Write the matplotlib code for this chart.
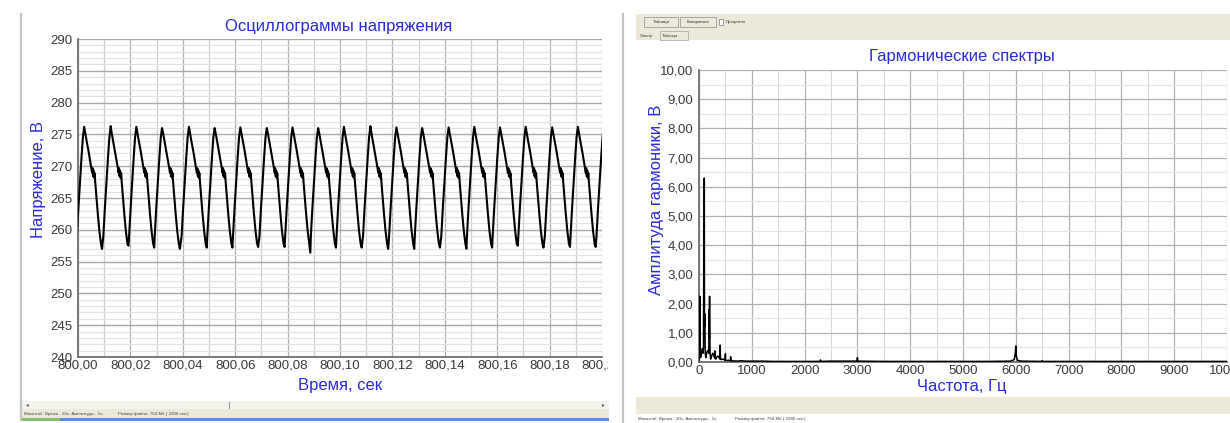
import matplotlib
matplotlib.use("Agg")
import matplotlib.pyplot as plt
from matplotlib.patches import Rectangle
from matplotlib.lines import Line2D
from matplotlib.transforms import Bbox
from matplotlib.ticker import MultipleLocator

plt.rcParams['font.family'] = ['Liberation Sans', 'DejaVu Sans']

# ---------------- data ----------------
volt_ticks = [240, 245, 250, 255, 260, 265, 270, 275, 280, 285, 290]
volt_labels = ["240", "245", "250", "255", "260", "265", "270", "275", "280", "285", "290"]
time_ticks = [800.00, 800.02, 800.04, 800.06, 800.08, 800.10, 800.12, 800.14, 800.16, 800.18, 800.20]
time_labels = ["800,00", "800,02", "800,04", "800,06", "800,08", "800,10",
               "800,12", "800,14", "800,16", "800,18", "800,20"]

# peak instants of the voltage ripple (s after 800 s)
peak_times = [0.00236, 0.01247, 0.02228, 0.03208, 0.04234, 0.05215, 0.06196,
              0.07206, 0.08187, 0.09167, 0.10148, 0.11159, 0.12154, 0.13135,
              0.14146, 0.15126, 0.16107, 0.17087, 0.18098, 0.19079, 0.20070]
peak_volts = [276.2, 276.3, 276.2, 276.0, 276.2, 276.0, 276.1, 276.0, 276.1, 276.0,
              276.2, 276.3, 276.1, 276.0, 276.1, 276.2, 276.1, 276.2, 276.1, 276.2, 276.2]
trough_volts = [257.0, 257.5, 257.2, 257.0, 257.2, 257.2, 257.3, 257.3, 256.4, 257.2,
                257.2, 257.0, 257.0, 257.2, 257.0, 257.2, 257.5, 257.2, 257.3, 257.3, 257.3]
# shape of one ripple period around its peak (time offset, s / voltage, V)
shape_dt = [-0.0028, -0.0022, -0.0016, -0.0010, -0.0005, 0.0004, 0.0010, 0.0016,
            0.0022, 0.0027, 0.0030, 0.0032, 0.0034, 0.0036, 0.0038, 0.0040, 0.0042,
            0.0046, 0.0052, 0.0058, 0.0064]
shape_v = [259.0, 263.5, 267.5, 271.5, 274.5, 275.2, 273.8, 272.5,
           271.0, 269.8, 269.0, 269.7, 268.4, 269.3, 268.2, 268.9, 267.6,
           265.5, 262.5, 259.8, 257.8]
trough_dt = 0.0068

amp_ticks = [0, 1, 2, 3, 4, 5, 6, 7, 8, 9, 10]
amp_labels = ["0,00", "1,00", "2,00", "3,00", "4,00", "5,00", "6,00", "7,00", "8,00", "9,00", "10,00"]
freq_ticks = [0, 1000, 2000, 3000, 4000, 5000, 6000, 7000, 8000, 9000, 10000]
freq_labels = ["0", "1000", "2000", "3000", "4000", "5000", "6000", "7000", "8000", "9000", "10000"]

spec_freq = [0, 8, 15, 22, 30, 45, 60, 75, 85, 92, 96, 100, 104, 110, 118, 130, 150,
             170, 185, 192, 196, 200, 204, 210, 220, 240, 260, 280, 295, 300, 305,
             320, 340, 360, 380, 395, 400, 405, 420, 450, 480, 495, 500, 505, 530,
             560, 595, 600, 605, 650, 700, 800, 900, 1000, 1200, 1400, 1700, 2000,
             2290, 2300, 2310, 2500, 2990, 3000, 3010, 3500, 4000, 4500, 5000, 5500,
             5900, 5970, 5990, 6000, 6010, 6030, 6100, 6490, 6500, 6510, 7000, 8000,
             9000, 10000]
spec_amp = [0.05, 0.6, 2.25, 0.4, 0.15, 0.3, 0.45, 0.3, 0.5, 4.65, 1.5, 6.3, 1.2, 1.65,
            0.3, 0.15, 0.35, 0.4, 0.3, 1.8, 0.8, 2.25, 1.0, 0.3, 0.1, 0.2, 0.3, 0.25,
            0.15, 0.38, 0.12, 0.1, 0.18, 0.2, 0.15, 0.1, 0.58, 0.15, 0.08, 0.1, 0.08,
            0.05, 0.28, 0.06, 0.05, 0.06, 0.04, 0.18, 0.04, 0.04, 0.03, 0.04, 0.03,
            0.03, 0.03, 0.02, 0.02, 0.02, 0.02, 0.07, 0.02, 0.03, 0.03, 0.15, 0.03,
            0.02, 0.02, 0.02, 0.02, 0.02, 0.03, 0.08, 0.3, 0.55, 0.2, 0.06, 0.03,
            0.02, 0.05, 0.02, 0.02, 0.02, 0.02, 0.02]

# ---------------- figure ----------------
W, H = 1230, 423
fig = plt.figure(figsize=(W / 100, H / 100), dpi=100)
fig.patch.set_facecolor("white")


def fx(x):
    return x / W


def fy(y):
    return 1 - y / H


BLUE = "#2a2ad8"
TICKC = "#3a3a3a"

# ---------- window chrome (screenshot frame) ----------
def rect(x0, y0, x1, y1, fc, ec="none", lw=0.0, z=0):
    fig.add_artist(Rectangle((fx(x0), fy(y1)), fx(x1 - x0), (y1 - y0) / H,
                             transform=fig.transFigure, facecolor=fc,
                             edgecolor=ec, linewidth=lw, zorder=z))


def vline(x, y0, y1, c, lw):
    fig.add_artist(Line2D([fx(x), fx(x)], [fy(y0), fy(y1)], transform=fig.transFigure,
                          color=c, linewidth=lw))


# left window
vline(20.5, 14, 420, "#c4c4c4", 1.6)
rect(22, 401, 609, 409, "#f4f3ec")
rect(22, 409, 609, 418, "#ece9d8")
rect(22, 418, 609, 421, "#5b8fd6")
rect(22, 418, 60, 421, "#7fbf6a")
fig.text(fx(26), fy(405), "◂", fontsize=4, color="#555555", va="center")
fig.text(fx(602), fy(405), "▸", fontsize=4, color="#555555", va="center")
vline(229, 402, 408, "#999999", 0.8)
fig.text(fx(24), fy(413.5), "Масштаб: Время - 20с; Амплитуда - 1с;", fontsize=3.2,
         color="#444444", va="center")
fig.text(fx(118), fy(413.5), "Размер файла: 764 Мб ( 2286 сек.)", fontsize=3.2,
         color="#444444", va="center")

# right window
vline(623, 14, 423, "#c4c4c4", 1.6)
rect(636, 14, W, 40, "#ece9d8")
rect(644, 17, 678, 27, "#ece9d8", "#9a9a9a", 0.6)
fig.text(fx(661), fy(22), "Таблица", fontsize=3.2, color="#333333", ha="center", va="center")
rect(680, 17, 716, 27, "#ece9d8", "#9a9a9a", 0.6)
fig.text(fx(698), fy(22), "Копировать", fontsize=3.2, color="#333333", ha="center", va="center")
rect(719, 19, 723, 25, "white", "#777777", 0.5)
fig.text(fx(726), fy(22), "Проценты", fontsize=3.2, color="#333333", va="center")
fig.text(fx(640), fy(36), "Спектр", fontsize=3.0, color="#333333", va="center")
rect(660, 31, 688, 40, "#ece9d8", "#a0a0a0", 0.5)
fig.text(fx(662), fy(36), "Таблица", fontsize=3.0, color="#333333", va="center")
rect(636, 397, W, 414, "#ece9d8")
fig.text(fx(638), fy(419), "Масштаб: Время - 20с; Амплитуда - 1с;", fontsize=3.2,
         color="#444444", va="center")
fig.text(fx(735), fy(419), "Размер файла: 764 Мб ( 2286 сек.)", fontsize=3.2,
         color="#444444", va="center")

# ---------- left chart: oscillogram ----------
ax1 = fig.add_axes([fx(78), fy(357), fx(602 - 78), (357 - 39) / H])
wave_t, wave_v = [], []
for k, pt in enumerate(peak_times):
    for dt, v in zip(shape_dt[:5], shape_v[:5]):
        wave_t.append(800 + pt + dt)
        wave_v.append(v)
    wave_t.append(800 + pt)
    wave_v.append(peak_volts[k])
    for dt, v in zip(shape_dt[5:], shape_v[5:]):
        wave_t.append(800 + pt + dt)
        wave_v.append(v)
    wave_t.append(800 + pt + trough_dt)
    wave_v.append(trough_volts[k])
ax1.plot(wave_t, wave_v, color="black", linewidth=1.5, zorder=3)
ax1.set_xlim(800.0, 800.2)
ax1.set_ylim(240, 290)
ax1.set_xticks(time_ticks)
ax1.set_xticklabels(time_labels)
ax1.set_yticks(volt_ticks)
ax1.set_yticklabels(volt_labels)
ax1.xaxis.set_minor_locator(MultipleLocator(0.01))
ax1.yaxis.set_minor_locator(MultipleLocator(1))
ax1.xaxis.grid(True, which="major", color="#b0b0b0", linewidth=0.9)
ax1.xaxis.grid(True, which="minor", color="#cfcfcf", linewidth=0.9)
ax1.yaxis.grid(True, which="major", color="#a8a8a8", linewidth=1.0)
ax1.yaxis.grid(True, which="minor", color="#e2e2e2", linewidth=0.8)

# ---------- right chart: spectrum ----------
ax2 = fig.add_axes([fx(699), fy(362), fx(1227 - 699), (362 - 70) / H])
ax2.plot(spec_freq, spec_amp, color="black", linewidth=1.1, zorder=3)
ax2.set_xlim(0, 10000)
ax2.set_ylim(0, 10)
ax2.set_xticks(freq_ticks)
ax2.set_xticklabels(freq_labels)
ax2.set_yticks(amp_ticks)
ax2.set_yticklabels(amp_labels)
ax2.xaxis.set_minor_locator(MultipleLocator(500))
ax2.yaxis.set_minor_locator(MultipleLocator(0.5))
ax2.xaxis.grid(True, which="major", color="#b0b0b0", linewidth=0.9)
ax2.xaxis.grid(True, which="minor", color="#d8d8d8", linewidth=0.8)
ax2.yaxis.grid(True, which="major", color="#b0b0b0", linewidth=0.9)
ax2.yaxis.grid(True, which="minor", color="#e4e4e4", linewidth=0.8)

for ax in (ax1, ax2):
    ax.set_axisbelow(True)
    ax.set_facecolor("white")
    for s in ("top", "right"):
        ax.spines[s].set_visible(False)
    for s in ("left", "bottom"):
        ax.spines[s].set_color("#707070")
        ax.spines[s].set_linewidth(1.3)
    ax.tick_params(which="both", length=0, labelsize=9.5, labelcolor=TICKC)
    ax.tick_params(axis="y", pad=4)
    ax.tick_params(axis="x", pad=2)

# clip the last time label at the window edge, as in the screenshot
last = ax1.get_xticklabels()[-1]
last.set_clip_on(True)
last.set_clip_box(Bbox.from_extents(0, 0, 608, H))

# ---------- titles and axis labels ----------
fig.text(fx(339), fy(27), "Осциллограммы напряжения", color=BLUE, fontsize=12,
         ha="center", va="center")
fig.text(fx(38), fy(179), "Напряжение, В", color=BLUE, fontsize=12, rotation=90,
         ha="center", va="center")
fig.text(fx(340), fy(385), "Время, сек", color=BLUE, fontsize=12,
         ha="center", va="center")
fig.text(fx(962), fy(56), "Гармонические спектры", color=BLUE, fontsize=12,
         ha="center", va="center")
fig.text(fx(657), fy(200), "Амплитуда гармоники, В", color=BLUE, fontsize=12,
         rotation=90, ha="center", va="center")
fig.text(fx(962), fy(386), "Частота, Гц", color=BLUE, fontsize=12,
         ha="center", va="center")

fig.savefig("out.png", dpi=100, facecolor="white")
